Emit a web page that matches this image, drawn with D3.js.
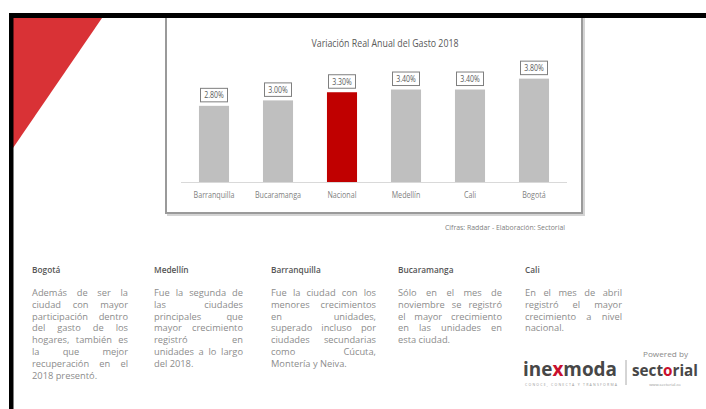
<!DOCTYPE html>
<html><head><meta charset="utf-8">
<script src="https://cdn.jsdelivr.net/npm/d3@7/dist/d3.min.js"></script>
<style>
html,body{margin:0;padding:0;background:#fff;}
svg{display:block;}
</style></head>
<body>
<svg id="c" width="706" height="409"></svg>
<script>
// ---- data ----
const categories = ["Barranquilla","Bucaramanga","Nacional","Medellín","Cali","Bogotá"];
const values = [2.80, 3.00, 3.30, 3.40, 3.40, 3.80];
const highlight = "Nacional";
const chartTitle = "Variación Real Anual del Gasto 2018";
const sourceNote = "Cifras: Raddar - Elaboración: Sectorial";
const headings = ["Bogotá","Medellín","Barranquilla","Bucaramanga","Cali"];
const bodies = [
  ["Además de ser la","ciudad con mayor","participación dentro","del gasto de los","hogares, también es","la que mejor","recuperación en el","2018 presentó."],
  ["Fue la segunda de","las ciudades","principales que","mayor crecimiento","registró en","unidades a lo largo","del 2018."],
  ["Fue la ciudad con los","menores crecimientos","en unidades,","superado incluso por","ciudades secundarias","como Cúcuta,","Montería y Neiva."],
  ["Sólo en el mes de","noviembre se registró","el mayor crecimiento","en las unidades en","esta ciudad."],
  ["En el mes de abril","registró el mayor","crecimiento a nivel","nacional."]
];

const svg = d3.select("#c");

// chart frame
svg.append("rect").attr("x",168).attr("y",17).attr("width",416).attr("height",198)
  .attr("fill","none").attr("stroke","#d4d4d4").attr("stroke-width",2);
svg.append("rect").attr("x",166).attr("y",15).attr("width",416).attr("height",198)
  .attr("fill","#fff").attr("stroke","#9a9a9a").attr("stroke-width",2);

// decoration
svg.append("path").attr("d","M13,18 L102,18 L13,148 Z").attr("fill","#d93236");
svg.append("rect").attr("x",9).attr("y",13).attr("width",697).attr("height",5).attr("fill","#000");
svg.append("rect").attr("x",9).attr("y",13).attr("width",4.5).attr("height",396).attr("fill","#000");

const font = "'Open Sans',Arial,sans-serif";
// condense a text horizontally (narrow typeface look)
function condense(sel, f){
  sel.each(function(){
    const L = this.getComputedTextLength();
    d3.select(this).attr("textLength", L*f).attr("lengthAdjust","spacingAndGlyphs");
  });
}

// title
svg.append("text").attr("x",385).attr("y",47).attr("text-anchor","middle")
  .attr("font-family",font).attr("font-size",10.5).attr("fill","#595959")
  .attr("textLength",147).attr("lengthAdjust","spacingAndGlyphs").text(chartTitle);

// scales
const x = d3.scaleBand().domain(categories).range([182,566]).paddingInner(0.53).paddingOuter(0.265);
const y = d3.scaleLinear().domain([0,4]).range([182,73.2]);

// baseline
svg.append("line").attr("x1",181).attr("x2",567).attr("y1",182.5).attr("y2",182.5)
  .attr("stroke","#d9d9d9").attr("stroke-width",1);

const g = svg.append("g");
g.selectAll("rect.bar").data(categories).join("rect").attr("class","bar")
  .attr("x",d=>x(d)).attr("width",x.bandwidth())
  .attr("y",(d,i)=>y(values[i])).attr("height",(d,i)=>y(0)-y(values[i]))
  .attr("fill",d=>d===highlight?"#c00000":"#bfbfbf");

// value labels
const fmt = v => d3.format(".2f")(v) + "%";
categories.forEach((c,i)=>{
  const cx = x(c)+x.bandwidth()/2, top = y(values[i]);
  svg.append("rect").attr("x",cx-13.5).attr("y",top-17.5).attr("width",27).attr("height",13.5)
    .attr("fill","#fff").attr("stroke","#7f7f7f").attr("stroke-width",1);
  svg.append("text").attr("x",cx).attr("y",top-7.5).attr("text-anchor","middle")
    .attr("font-family",font).attr("font-size",8.5).attr("fill","#595959").text(fmt(values[i]))
    .call(condense,0.82);
});

// category axis
const ax = svg.append("g").attr("transform","translate(0,182)")
  .call(d3.axisBottom(x).tickSize(0).tickPadding(10));
ax.select(".domain").remove();
ax.selectAll("text").attr("font-family",font).attr("font-size",8.5).attr("fill","#7f7f7f").call(condense,0.84);

// source
svg.append("text").attr("x",565).attr("y",230).attr("text-anchor","end")
  .attr("font-family",font).attr("font-size",6.5).attr("fill","#808080")
  .attr("textLength",120).attr("lengthAdjust","spacingAndGlyphs").text(sourceNote);

// text columns
const cols = [{x:32,w:96},{x:154,w:89},{x:271,w:105},{x:398,w:104},{x:525,w:97}];
const fs = 9.3;
const measure = svg.append("text").attr("font-family",font).attr("font-size",fs).attr("visibility","hidden");
function wlen(s){ measure.text(s); return measure.node().getComputedTextLength(); }

headings.forEach((h,k)=>{
  svg.append("text").attr("x",cols[k].x).attr("y",273).attr("font-family",font)
    .attr("font-weight",600).attr("font-size",8.3).attr("fill","#555").text(h);
  const lines = bodies[k];
  lines.forEach((ln,j)=>{
    const yy = 296 + j*11.8;
    const words = ln.split(" ");
    const last = j===lines.length-1;
    const base = () => svg.append("text").attr("y",yy).attr("font-family",font)
        .attr("font-size",fs).attr("fill","#8c8c8c");
    if(last){
      base().attr("x",cols[k].x).text(ln);
    } else {
      const ws = words.map(wlen);
      const gap = (cols[k].w - d3.sum(ws))/(words.length-1);
      if(gap < 2.6){
        base().attr("x",cols[k].x).attr("textLength",cols[k].w).attr("lengthAdjust","spacingAndGlyphs").text(ln);
      } else {
        let xx = cols[k].x;
        words.forEach((w,m)=>{ base().attr("x",xx).text(w); xx += ws[m]+gap; });
      }
    }
  });
});
measure.remove();

// logos
const logo = svg.append("text").attr("x",523).attr("y",376).attr("font-family",font)
  .attr("font-weight",700).attr("font-size",19).attr("fill","#474747")
  .attr("textLength",94).attr("lengthAdjust","spacingAndGlyphs");
logo.append("tspan").text("ine");
logo.append("tspan").attr("fill","#c8102e").text("x");
logo.append("tspan").text("moda");
svg.append("text").attr("x",525).attr("y",386).attr("font-family",font)
  .attr("font-size",3.5).attr("fill","#999").attr("textLength",92).attr("lengthAdjust","spacing")
  .text("CONOCE, CONECTA Y TRANSFORMA");
svg.append("line").attr("x1",626).attr("x2",626).attr("y1",360).attr("y2",385).attr("stroke","#aaa");
svg.append("text").attr("x",643).attr("y",357).attr("font-family",font)
  .attr("font-size",7).attr("fill","#8a8a8a").attr("textLength",45).attr("lengthAdjust","spacingAndGlyphs").text("Powered by");
const sec = svg.append("text").attr("x",632).attr("y",376).attr("font-family",font)
  .attr("font-weight",700).attr("font-size",16).attr("fill","#474747")
  .attr("textLength",66).attr("lengthAdjust","spacingAndGlyphs");
sec.append("tspan").text("sect");
sec.append("tspan").attr("fill","#c8102e").text("o");
sec.append("tspan").text("rial");
svg.append("text").attr("x",665).attr("y",386).attr("text-anchor","middle").attr("font-family",font)
  .attr("font-size",4).attr("fill","#999").text("www.sectorial.co");
</script>
</body></html>
